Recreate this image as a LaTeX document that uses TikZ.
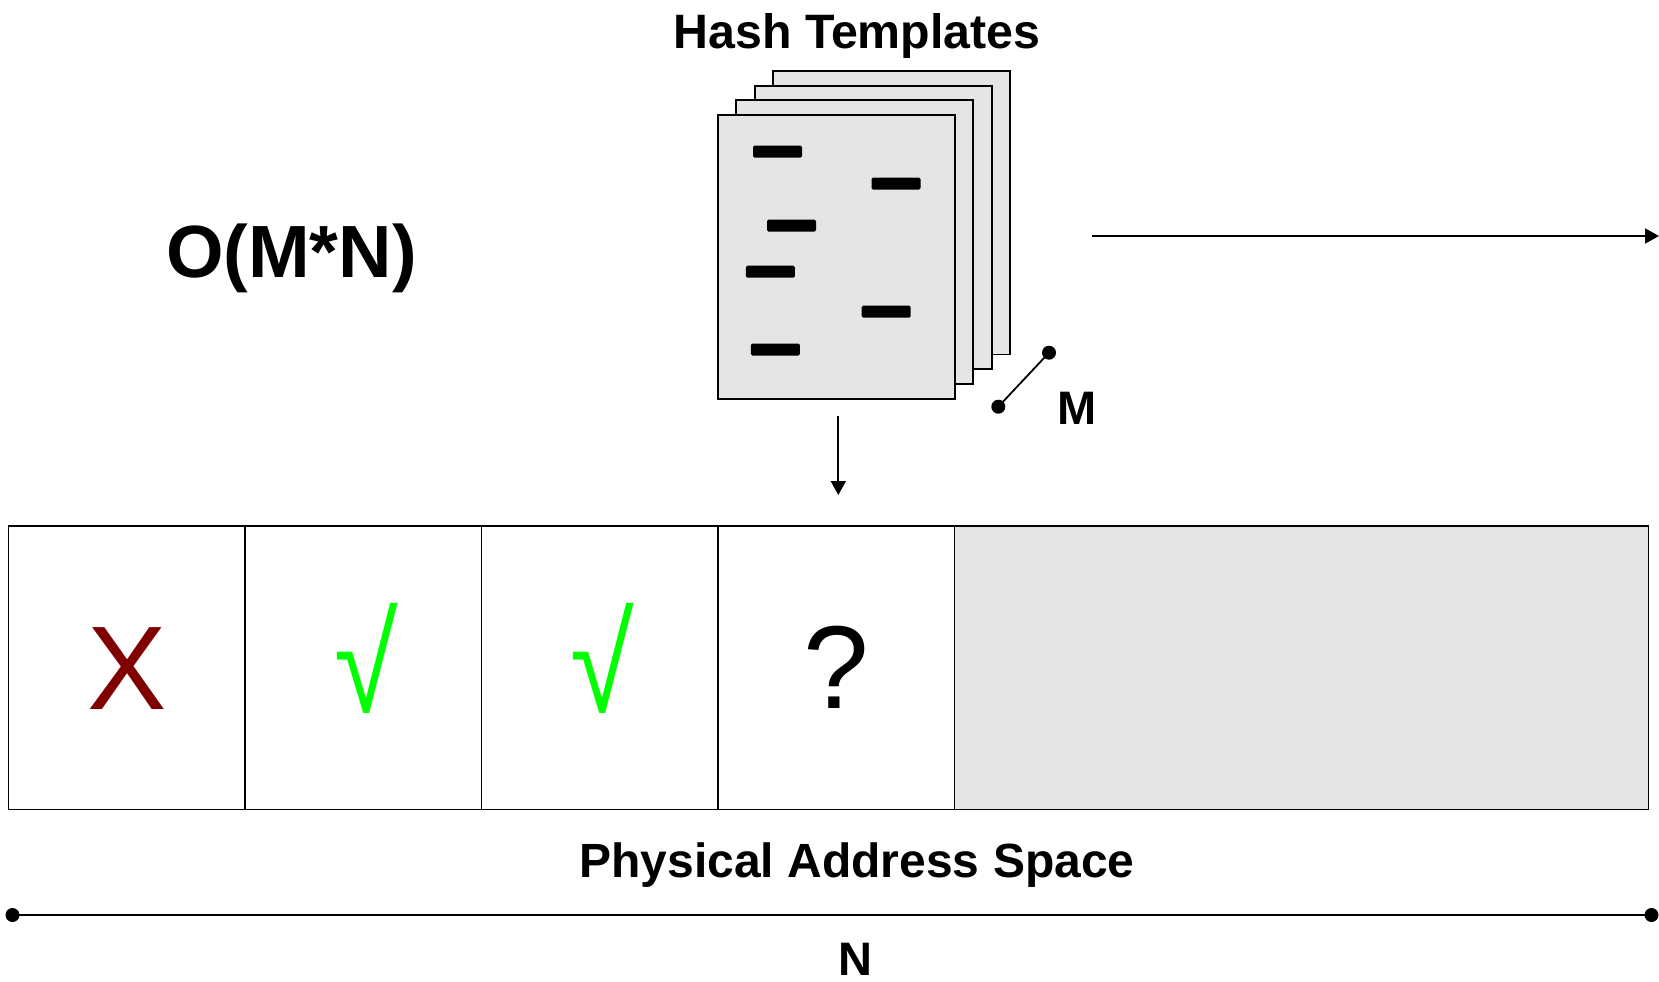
\documentclass[tikz,border=0pt]{standalone}
\usepackage{fontspec}
\setmainfont{Liberation Sans}
\usetikzlibrary{arrows.meta}
\definecolor{pagegray}{HTML}{E5E5E5}
\definecolor{xred}{HTML}{800000}
\definecolor{okgreen}{HTML}{00FF00}
\begin{document}
\begin{tikzpicture}[x=1pt,y=-1pt,line width=1.8pt,
  page/.style={draw=black,fill=pagegray,line width=1.8pt,minimum width=237pt,minimum height=283.5pt,inner sep=0pt,outer sep=0pt,anchor=north west},
  bar/.style={fill=black,rounded corners=1.5pt,minimum width=49pt,minimum height=12pt,inner sep=0pt},
  cell/.style={draw=black,line width=1.8pt,minimum width=236.5pt,minimum height=283.6pt,inner sep=0pt,outer sep=0pt},
  lbl/.style={font=\bfseries\fontsize{48}{56}\selectfont,inner sep=0pt,anchor=base},
  sym/.style={font=\fontsize{118}{130}\selectfont,inner sep=0pt},
  dot/.style={circle,fill=black,inner sep=0pt,minimum size=14pt},
  conn/.style={line width=1.8pt},
  arr/.style={conn,-{Triangle[length=14pt,width=15pt]}}]
\useasboundingbox (0,0) rectangle (1659,982);
% stacked hash template pages
\node[page] (p4) at (772.7,71) {};
\node[page] (p3) at (754.7,85.7) {};
\node[page] (p2) at (736.3,100.3) {};
\node[page] (p1) at (717.7,115.3) {};
\node[bar] (b1) at (777.5,151.7) {};
\node[bar] (b2) at (896,183.7) {};
\node[bar] (b3) at (791.5,225.7) {};
\node[bar] (b4) at (770.3,271.7) {};
\node[bar] (b5) at (886.2,311.7) {};
\node[bar] (b6) at (775.3,349.5) {};
% labels
\node[lbl,font=\bfseries\fontsize{48.3}{56}\selectfont] (title) at (857,48.3) {Hash Templates};
\node[lbl,font=\bfseries\fontsize{74}{90}\selectfont] (omn) at (291.5,277) {O(M*N)};
\node[lbl,font=\bfseries\fontsize{48}{60}\selectfont] (pas) at (857,877) {Physical Address Space};
\node[lbl,font=\bfseries\fontsize{47}{56}\selectfont] (mlabel) at (1077,424) {M};
\node[lbl,font=\bfseries\fontsize{47}{56}\selectfont] (nlabel) at (855.5,975) {N};
% M dimension
\node[dot] (m1) at (1049,352.7) {};
\node[dot] (m2) at (998.3,406.7) {};
\draw[conn] (m1.center) -- (m2.center);
% N dimension
\node[dot] (n1) at (12.5,915) {};
\node[dot] (n2) at (1651.5,915) {};
\draw[conn] (n1.center) -- (n2.center);
% arrows
\coordinate (dtop) at (838.3,416);
\coordinate (dbot) at (838.3,495);
\draw[arr] (dtop) -- (dbot);
\coordinate (rs) at (1092,236);
\coordinate (re) at (1659,236);
\draw[arr] (rs) -- (re);
% address space cells
\node[cell] (c1) at (126.75,667.6) {};
\node[cell] (c2) at (363.25,667.6) {};
\node[cell] (c3) at (599.75,667.6) {};
\node[cell] (c4) at (836.25,667.6) {};
\node[cell,fill=pagegray,minimum width=694pt] (c5) at (1301.5,667.6) {};
% symbols
\node[sym,text=xred,anchor=base,font=\fontsize{119}{130}\selectfont] (sx) at (127,709) {X};
\node[sym,text=okgreen,font=\fontsize{138}{150}\selectfont] (sv1) at (366,658.6) {\scalebox{0.84}[1]{√}};
\node[sym,text=okgreen,font=\fontsize{138}{150}\selectfont] (sv2) at (602.5,658.6) {\scalebox{0.84}[1]{√}};
\node[sym,anchor=base] (sq) at (836,708.5) {?};
\end{tikzpicture}
\end{document}
